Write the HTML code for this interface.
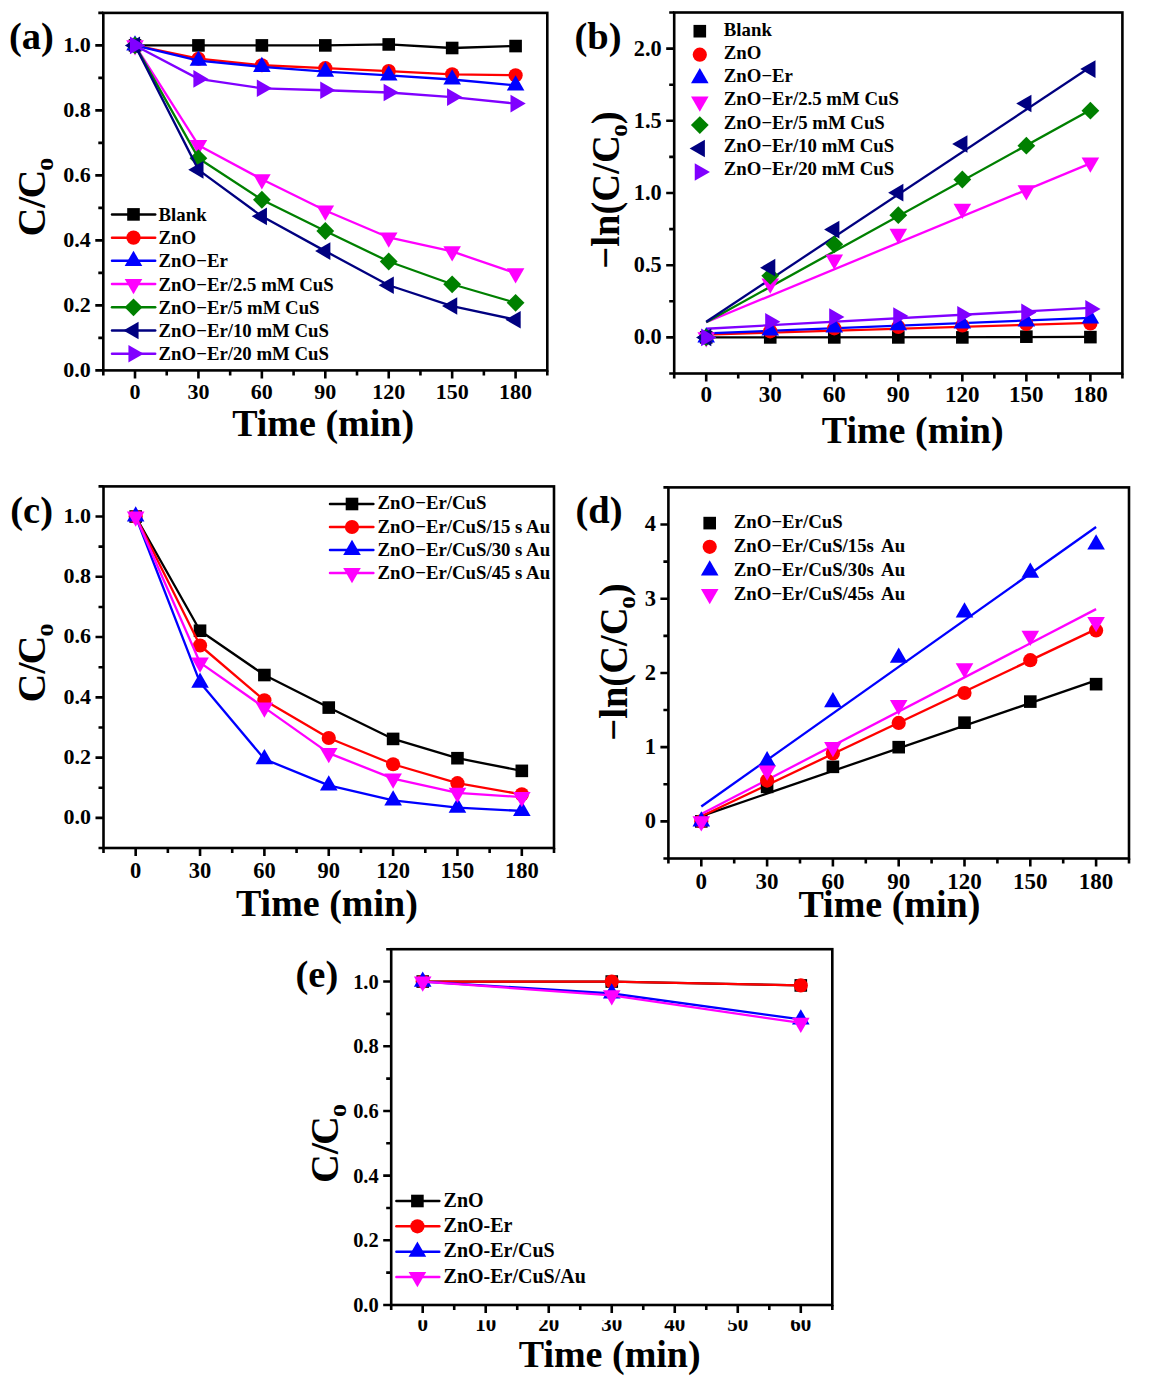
<!DOCTYPE html>
<html><head><meta charset="utf-8"><style>
html,body{margin:0;padding:0;background:#fff;}
body{width:1151px;height:1383px;overflow:hidden;}
svg{display:block;}
</style></head><body>
<svg width="1151" height="1383" viewBox="0 0 1151 1383">
<path d="M103.3 370.4V375.4M166.73 370.4V375.4M230.16 370.4V375.4M293.59 370.4V375.4M357.01 370.4V375.4M420.44 370.4V375.4M483.87 370.4V375.4M547.3 370.4V375.4M135.01 370.4V378.4M198.44 370.4V378.4M261.87 370.4V378.4M325.3 370.4V378.4M388.73 370.4V378.4M452.16 370.4V378.4M515.59 370.4V378.4M103.3 337.9H98.3M103.3 272.9H98.3M103.3 207.9H98.3M103.3 142.9H98.3M103.3 77.9H98.3M103.3 12.9H98.3M103.3 370.4H95.3M103.3 305.4H95.3M103.3 240.4H95.3M103.3 175.4H95.3M103.3 110.4H95.3M103.3 45.4H95.3" stroke="#000" stroke-width="2.6" fill="none"/>
<rect x="103.3" y="12.9" width="444" height="357.5" fill="none" stroke="#000" stroke-width="2.6"/>
<text x="135.01" y="398.8" font-size="22" text-anchor="middle" font-family="Liberation Serif" font-weight="bold" >0</text>
<text x="198.44" y="398.8" font-size="22" text-anchor="middle" font-family="Liberation Serif" font-weight="bold" >30</text>
<text x="261.87" y="398.8" font-size="22" text-anchor="middle" font-family="Liberation Serif" font-weight="bold" >60</text>
<text x="325.3" y="398.8" font-size="22" text-anchor="middle" font-family="Liberation Serif" font-weight="bold" >90</text>
<text x="388.73" y="398.8" font-size="22" text-anchor="middle" font-family="Liberation Serif" font-weight="bold" >120</text>
<text x="452.16" y="398.8" font-size="22" text-anchor="middle" font-family="Liberation Serif" font-weight="bold" >150</text>
<text x="515.59" y="398.8" font-size="22" text-anchor="middle" font-family="Liberation Serif" font-weight="bold" >180</text>
<text x="90.8" y="376.7" font-size="22" text-anchor="end" font-family="Liberation Serif" font-weight="bold" >0.0</text>
<text x="90.8" y="311.7" font-size="22" text-anchor="end" font-family="Liberation Serif" font-weight="bold" >0.2</text>
<text x="90.8" y="246.7" font-size="22" text-anchor="end" font-family="Liberation Serif" font-weight="bold" >0.4</text>
<text x="90.8" y="181.7" font-size="22" text-anchor="end" font-family="Liberation Serif" font-weight="bold" >0.6</text>
<text x="90.8" y="116.7" font-size="22" text-anchor="end" font-family="Liberation Serif" font-weight="bold" >0.8</text>
<text x="90.8" y="51.7" font-size="22" text-anchor="end" font-family="Liberation Serif" font-weight="bold" >1.0</text>
<polyline points="135.01,45.4 198.44,45.4 261.87,45.4 325.3,45.4 388.73,44.43 452.16,48 515.59,46.05" fill="none" stroke="#000000" stroke-width="2.3" stroke-linejoin="round"/>
<rect x="128.71" y="39.1" width="12.6" height="12.6" fill="#000000"/>
<rect x="192.14" y="39.1" width="12.6" height="12.6" fill="#000000"/>
<rect x="255.57" y="39.1" width="12.6" height="12.6" fill="#000000"/>
<rect x="319" y="39.1" width="12.6" height="12.6" fill="#000000"/>
<rect x="382.43" y="38.13" width="12.6" height="12.6" fill="#000000"/>
<rect x="445.86" y="41.7" width="12.6" height="12.6" fill="#000000"/>
<rect x="509.29" y="39.75" width="12.6" height="12.6" fill="#000000"/>
<polyline points="135.01,45.4 198.44,58.73 261.87,65.23 325.3,68.15 388.73,71.07 452.16,74.32 515.59,75.3" fill="none" stroke="#ff0000" stroke-width="2.3" stroke-linejoin="round"/>
<circle cx="135.01" cy="45.4" r="7.1" fill="#ff0000"/>
<circle cx="198.44" cy="58.73" r="7.1" fill="#ff0000"/>
<circle cx="261.87" cy="65.23" r="7.1" fill="#ff0000"/>
<circle cx="325.3" cy="68.15" r="7.1" fill="#ff0000"/>
<circle cx="388.73" cy="71.07" r="7.1" fill="#ff0000"/>
<circle cx="452.16" cy="74.32" r="7.1" fill="#ff0000"/>
<circle cx="515.59" cy="75.3" r="7.1" fill="#ff0000"/>
<polyline points="135.01,45.4 198.44,60.68 261.87,66.85 325.3,71.72 388.73,75.3 452.16,79.52 515.59,85.38" fill="none" stroke="#0000ff" stroke-width="2.3" stroke-linejoin="round"/>
<path d="M135.01 35.24L143.81 50.48L126.21 50.48Z" fill="#0000ff"/>
<path d="M198.44 50.51L207.24 65.76L189.64 65.76Z" fill="#0000ff"/>
<path d="M261.87 56.69L270.67 71.93L253.07 71.93Z" fill="#0000ff"/>
<path d="M325.3 61.56L334.1 76.81L316.5 76.81Z" fill="#0000ff"/>
<path d="M388.73 65.14L397.53 80.38L379.93 80.38Z" fill="#0000ff"/>
<path d="M452.16 69.36L460.96 84.61L443.36 84.61Z" fill="#0000ff"/>
<path d="M515.59 75.21L524.39 90.46L506.79 90.46Z" fill="#0000ff"/>
<polyline points="135.01,45.4 198.44,145.18 261.87,179.3 325.3,210.5 388.73,237.47 452.16,251.45 515.59,273.22" fill="none" stroke="#ff00ff" stroke-width="2.3" stroke-linejoin="round"/>
<path d="M135.01 55.56L143.81 40.32L126.21 40.32Z" fill="#ff00ff"/>
<path d="M198.44 155.34L207.24 140.09L189.64 140.09Z" fill="#ff00ff"/>
<path d="M261.87 189.46L270.67 174.22L253.07 174.22Z" fill="#ff00ff"/>
<path d="M325.3 220.66L334.1 205.42L316.5 205.42Z" fill="#ff00ff"/>
<path d="M388.73 247.64L397.53 232.39L379.93 232.39Z" fill="#ff00ff"/>
<path d="M452.16 261.61L460.96 246.37L443.36 246.37Z" fill="#ff00ff"/>
<path d="M515.59 283.39L524.39 268.14L506.79 268.14Z" fill="#ff00ff"/>
<polyline points="135.01,45.4 198.44,158.17 261.87,199.77 325.3,230.97 388.73,261.52 452.16,284.27 515.59,302.8" fill="none" stroke="#008000" stroke-width="2.3" stroke-linejoin="round"/>
<path d="M135.01 36.5L143.91 45.4L135.01 54.3L126.11 45.4Z" fill="#008000"/>
<path d="M198.44 149.27L207.34 158.17L198.44 167.07L189.54 158.17Z" fill="#008000"/>
<path d="M261.87 190.87L270.77 199.77L261.87 208.67L252.97 199.77Z" fill="#008000"/>
<path d="M325.3 222.07L334.2 230.97L325.3 239.88L316.4 230.97Z" fill="#008000"/>
<path d="M388.73 252.62L397.63 261.52L388.73 270.42L379.83 261.52Z" fill="#008000"/>
<path d="M452.16 275.38L461.06 284.27L452.16 293.17L443.26 284.27Z" fill="#008000"/>
<path d="M515.59 293.9L524.49 302.8L515.59 311.7L506.69 302.8Z" fill="#008000"/>
<polyline points="135.01,45.4 198.44,169.87 261.87,216.35 325.3,251.12 388.73,285.25 452.16,306.05 515.59,319.7" fill="none" stroke="#000080" stroke-width="2.3" stroke-linejoin="round"/>
<path d="M124.85 45.4L140.09 36.6L140.09 54.2Z" fill="#000080"/>
<path d="M188.28 169.87L203.52 161.07L203.52 178.67Z" fill="#000080"/>
<path d="M251.71 216.35L266.95 207.55L266.95 225.15Z" fill="#000080"/>
<path d="M315.14 251.12L330.38 242.32L330.38 259.93Z" fill="#000080"/>
<path d="M378.57 285.25L393.81 276.45L393.81 294.05Z" fill="#000080"/>
<path d="M442 306.05L457.24 297.25L457.24 314.85Z" fill="#000080"/>
<path d="M505.42 319.7L520.67 310.9L520.67 328.5Z" fill="#000080"/>
<polyline points="135.01,45.4 198.44,78.88 261.87,88.3 325.3,90.25 388.73,92.52 452.16,97.08 515.59,103.58" fill="none" stroke="#8000ff" stroke-width="2.3" stroke-linejoin="round"/>
<path d="M145.18 45.4L129.93 36.6L129.93 54.2Z" fill="#8000ff"/>
<path d="M208.6 78.88L193.36 70.08L193.36 87.67Z" fill="#8000ff"/>
<path d="M272.03 88.3L256.79 79.5L256.79 97.1Z" fill="#8000ff"/>
<path d="M335.46 90.25L320.22 81.45L320.22 99.05Z" fill="#8000ff"/>
<path d="M398.89 92.52L383.65 83.72L383.65 101.32Z" fill="#8000ff"/>
<path d="M462.32 97.08L447.08 88.28L447.08 105.88Z" fill="#8000ff"/>
<path d="M525.75 103.58L510.51 94.78L510.51 112.38Z" fill="#8000ff"/>
<path d="M112 214.4H155.2" stroke="#000000" stroke-width="2.5" stroke-linecap="round"/>
<rect x="127.2" y="208.1" width="12.6" height="12.6" fill="#000000"/>
<text x="158.6" y="220.9" font-size="18.8" text-anchor="start" font-family="Liberation Serif" font-weight="bold" >Blank</text>
<path d="M112 237.63H155.2" stroke="#ff0000" stroke-width="2.5" stroke-linecap="round"/>
<circle cx="133.5" cy="237.63" r="7.1" fill="#ff0000"/>
<text x="158.6" y="244.13" font-size="18.8" text-anchor="start" font-family="Liberation Serif" font-weight="bold" >ZnO</text>
<path d="M112 260.86H155.2" stroke="#0000ff" stroke-width="2.5" stroke-linecap="round"/>
<path d="M133.5 250.7L142.3 265.94L124.7 265.94Z" fill="#0000ff"/>
<text x="158.6" y="267.36" font-size="18.8" text-anchor="start" font-family="Liberation Serif" font-weight="bold" >ZnO&#8722;Er</text>
<path d="M112 284.09H155.2" stroke="#ff00ff" stroke-width="2.5" stroke-linecap="round"/>
<path d="M133.5 294.25L142.3 279.01L124.7 279.01Z" fill="#ff00ff"/>
<text x="158.6" y="290.59" font-size="18.8" text-anchor="start" font-family="Liberation Serif" font-weight="bold" >ZnO&#8722;Er/2.5 mM CuS</text>
<path d="M112 307.32H155.2" stroke="#008000" stroke-width="2.5" stroke-linecap="round"/>
<path d="M133.5 298.42L142.4 307.32L133.5 316.22L124.6 307.32Z" fill="#008000"/>
<text x="158.6" y="313.82" font-size="18.8" text-anchor="start" font-family="Liberation Serif" font-weight="bold" >ZnO&#8722;Er/5 mM CuS</text>
<path d="M112 330.55H155.2" stroke="#000080" stroke-width="2.5" stroke-linecap="round"/>
<path d="M123.34 330.55L138.58 321.75L138.58 339.35Z" fill="#000080"/>
<text x="158.6" y="337.05" font-size="18.8" text-anchor="start" font-family="Liberation Serif" font-weight="bold" >ZnO&#8722;Er/10 mM CuS</text>
<path d="M112 353.78H155.2" stroke="#8000ff" stroke-width="2.5" stroke-linecap="round"/>
<path d="M143.66 353.78L128.42 344.98L128.42 362.58Z" fill="#8000ff"/>
<text x="158.6" y="360.28" font-size="18.8" text-anchor="start" font-family="Liberation Serif" font-weight="bold" >ZnO&#8722;Er/20 mM CuS</text>
<text x="9" y="48.8" font-size="38.5" text-anchor="start" font-family="Liberation Serif" font-weight="bold" >(a)</text>
<text x="323.1" y="435.6" font-size="38" text-anchor="middle" font-family="Liberation Serif" font-weight="bold" >Time (min)</text>
<text transform="translate(44.8,236.6) rotate(-90) scale(1.0,1)" font-size="40" font-family="Liberation Serif" font-weight="bold">C/<tspan dx="-2">C</tspan><tspan font-size="26" dx="-1.0" dy="8.5">o</tspan></text>
<path d="M674.2 373.5V378.5M738.23 373.5V378.5M802.26 373.5V378.5M866.29 373.5V378.5M930.31 373.5V378.5M994.34 373.5V378.5M1058.37 373.5V378.5M1122.4 373.5V378.5M706.21 373.5V381.5M770.24 373.5V381.5M834.27 373.5V381.5M898.3 373.5V381.5M962.33 373.5V381.5M1026.36 373.5V381.5M1090.39 373.5V381.5M674.2 373.5H669.2M674.2 301.3H669.2M674.2 229.1H669.2M674.2 156.9H669.2M674.2 84.7H669.2M674.2 12.5H669.2M674.2 337.4H666.2M674.2 265.2H666.2M674.2 193H666.2M674.2 120.8H666.2M674.2 48.6H666.2" stroke="#000" stroke-width="2.6" fill="none"/>
<rect x="674.2" y="12.5" width="448.2" height="361" fill="none" stroke="#000" stroke-width="2.6"/>
<text x="706.21" y="402.1" font-size="23" text-anchor="middle" font-family="Liberation Serif" font-weight="bold" >0</text>
<text x="770.24" y="402.1" font-size="23" text-anchor="middle" font-family="Liberation Serif" font-weight="bold" >30</text>
<text x="834.27" y="402.1" font-size="23" text-anchor="middle" font-family="Liberation Serif" font-weight="bold" >60</text>
<text x="898.3" y="402.1" font-size="23" text-anchor="middle" font-family="Liberation Serif" font-weight="bold" >90</text>
<text x="962.33" y="402.1" font-size="23" text-anchor="middle" font-family="Liberation Serif" font-weight="bold" >120</text>
<text x="1026.36" y="402.1" font-size="23" text-anchor="middle" font-family="Liberation Serif" font-weight="bold" >150</text>
<text x="1090.39" y="402.1" font-size="23" text-anchor="middle" font-family="Liberation Serif" font-weight="bold" >180</text>
<text transform="translate(661.7,344.3) scale(0.97,1)" font-size="23" text-anchor="end" font-family="Liberation Serif" font-weight="bold" >0.0</text>
<text transform="translate(661.7,272.1) scale(0.97,1)" font-size="23" text-anchor="end" font-family="Liberation Serif" font-weight="bold" >0.5</text>
<text transform="translate(661.7,199.9) scale(0.97,1)" font-size="23" text-anchor="end" font-family="Liberation Serif" font-weight="bold" >1.0</text>
<text transform="translate(661.7,127.7) scale(0.97,1)" font-size="23" text-anchor="end" font-family="Liberation Serif" font-weight="bold" >1.5</text>
<text transform="translate(661.7,55.5) scale(0.97,1)" font-size="23" text-anchor="end" font-family="Liberation Serif" font-weight="bold" >2.0</text>
<polyline points="706.21,337.4 1090.39,336.97" fill="none" stroke="#000000" stroke-width="2.3" stroke-linejoin="round"/>
<polyline points="706.21,334.51 1090.39,322.96" fill="none" stroke="#ff0000" stroke-width="2.3" stroke-linejoin="round"/>
<polyline points="706.21,333.36 1090.39,317.91" fill="none" stroke="#0000ff" stroke-width="2.3" stroke-linejoin="round"/>
<polyline points="706.21,322.24 1090.39,163.4" fill="none" stroke="#ff00ff" stroke-width="2.3" stroke-linejoin="round"/>
<polyline points="706.21,322.24 1090.39,109.97" fill="none" stroke="#008000" stroke-width="2.3" stroke-linejoin="round"/>
<polyline points="706.21,321.8 1090.39,67.08" fill="none" stroke="#000080" stroke-width="2.3" stroke-linejoin="round"/>
<polyline points="706.21,328.74 1090.39,307.8" fill="none" stroke="#8000ff" stroke-width="2.3" stroke-linejoin="round"/>
<rect x="699.91" y="331.1" width="12.6" height="12.6" fill="#000000"/>
<rect x="763.94" y="331.1" width="12.6" height="12.6" fill="#000000"/>
<rect x="827.97" y="331.1" width="12.6" height="12.6" fill="#000000"/>
<rect x="892" y="331.1" width="12.6" height="12.6" fill="#000000"/>
<rect x="956.03" y="331.1" width="12.6" height="12.6" fill="#000000"/>
<rect x="1020.06" y="330.38" width="12.6" height="12.6" fill="#000000"/>
<rect x="1084.09" y="330.81" width="12.6" height="12.6" fill="#000000"/>
<circle cx="706.21" cy="337.4" r="7.1" fill="#ff0000"/>
<circle cx="770.24" cy="331.35" r="7.1" fill="#ff0000"/>
<circle cx="834.27" cy="328.31" r="7.1" fill="#ff0000"/>
<circle cx="898.3" cy="326.92" r="7.1" fill="#ff0000"/>
<circle cx="962.33" cy="325.52" r="7.1" fill="#ff0000"/>
<circle cx="1026.36" cy="323.94" r="7.1" fill="#ff0000"/>
<circle cx="1090.39" cy="323.46" r="7.1" fill="#ff0000"/>
<path d="M706.21 327.24L715.01 342.48L697.41 342.48Z" fill="#0000ff"/>
<path d="M770.24 320.29L779.04 335.53L761.44 335.53Z" fill="#0000ff"/>
<path d="M834.27 317.38L843.07 332.62L825.47 332.62Z" fill="#0000ff"/>
<path d="M898.3 315.04L907.1 330.28L889.5 330.28Z" fill="#0000ff"/>
<path d="M962.33 313.3L971.13 328.54L953.53 328.54Z" fill="#0000ff"/>
<path d="M1026.36 311.22L1035.16 326.46L1017.56 326.46Z" fill="#0000ff"/>
<path d="M1090.39 308.29L1099.19 323.53L1081.59 323.53Z" fill="#0000ff"/>
<path d="M706.21 347.56L715.01 332.32L697.41 332.32Z" fill="#ff00ff"/>
<path d="M770.24 293.84L779.04 278.6L761.44 278.6Z" fill="#ff00ff"/>
<path d="M834.27 269.73L843.07 254.49L825.47 254.49Z" fill="#ff00ff"/>
<path d="M898.3 244.03L907.1 228.78L889.5 228.78Z" fill="#ff00ff"/>
<path d="M962.33 219.05L971.13 203.8L953.53 203.8Z" fill="#ff00ff"/>
<path d="M1026.36 200.56L1035.16 185.32L1017.56 185.32Z" fill="#ff00ff"/>
<path d="M1090.39 172.84L1099.19 157.6L1081.59 157.6Z" fill="#ff00ff"/>
<path d="M706.21 328.5L715.11 337.4L706.21 346.3L697.31 337.4Z" fill="#008000"/>
<path d="M770.24 266.96L779.14 275.86L770.24 284.76L761.34 275.86Z" fill="#008000"/>
<path d="M834.27 235.45L843.17 244.35L834.27 253.25L825.37 244.35Z" fill="#008000"/>
<path d="M898.3 206.29L907.2 215.19L898.3 224.09L889.4 215.19Z" fill="#008000"/>
<path d="M962.33 170.58L971.23 179.48L962.33 188.38L953.43 179.48Z" fill="#008000"/>
<path d="M1026.36 136.73L1035.26 145.63L1026.36 154.53L1017.46 145.63Z" fill="#008000"/>
<path d="M1090.39 101.76L1099.29 110.66L1090.39 119.56L1081.49 110.66Z" fill="#008000"/>
<path d="M696.05 337.4L711.29 328.6L711.29 346.2Z" fill="#000080"/>
<path d="M760.08 267.67L775.32 258.87L775.32 276.47Z" fill="#000080"/>
<path d="M824.11 229.6L839.35 220.8L839.35 238.4Z" fill="#000080"/>
<path d="M888.14 192.65L903.38 183.85L903.38 201.45Z" fill="#000080"/>
<path d="M952.17 143.99L967.41 135.19L967.41 152.79Z" fill="#000080"/>
<path d="M1016.2 103.55L1031.44 94.75L1031.44 112.35Z" fill="#000080"/>
<path d="M1080.22 69.12L1095.47 60.32L1095.47 77.92Z" fill="#000080"/>
<path d="M716.38 337.4L701.13 328.6L701.13 346.2Z" fill="#8000ff"/>
<path d="M780.4 321.7L765.16 312.9L765.16 330.5Z" fill="#8000ff"/>
<path d="M844.43 316.96L829.19 308.16L829.19 325.76Z" fill="#8000ff"/>
<path d="M908.46 315.96L893.22 307.16L893.22 324.76Z" fill="#8000ff"/>
<path d="M972.49 314.78L957.25 305.98L957.25 323.58Z" fill="#8000ff"/>
<path d="M1036.52 312.4L1021.28 303.6L1021.28 321.2Z" fill="#8000ff"/>
<path d="M1100.55 308.92L1085.31 300.12L1085.31 317.72Z" fill="#8000ff"/>
<rect x="693.5" y="24.9" width="12.6" height="12.6" fill="#000000"/>
<text x="723.8" y="36.4" font-size="18.8" text-anchor="start" font-family="Liberation Serif" font-weight="bold" >Blank</text>
<circle cx="699.8" cy="54.67" r="7.1" fill="#ff0000"/>
<text x="723.8" y="59.43" font-size="18.8" text-anchor="start" font-family="Liberation Serif" font-weight="bold" >ZnO</text>
<path d="M699.8 67.98L708.6 83.22L691 83.22Z" fill="#0000ff"/>
<text x="723.8" y="82.46" font-size="18.8" text-anchor="start" font-family="Liberation Serif" font-weight="bold" >ZnO&#8722;Er</text>
<path d="M699.8 111.77L708.6 96.53L691 96.53Z" fill="#ff00ff"/>
<text x="723.8" y="105.49" font-size="18.8" text-anchor="start" font-family="Liberation Serif" font-weight="bold" >ZnO&#8722;Er/2.5 mM CuS</text>
<path d="M699.8 116.18L708.7 125.08L699.8 133.98L690.9 125.08Z" fill="#008000"/>
<text x="723.8" y="128.52" font-size="18.8" text-anchor="start" font-family="Liberation Serif" font-weight="bold" >ZnO&#8722;Er/5 mM CuS</text>
<path d="M689.64 148.55L704.88 139.75L704.88 157.35Z" fill="#000080"/>
<text x="723.8" y="151.55" font-size="18.8" text-anchor="start" font-family="Liberation Serif" font-weight="bold" >ZnO&#8722;Er/10 mM CuS</text>
<path d="M709.96 172.02L694.72 163.22L694.72 180.82Z" fill="#8000ff"/>
<text x="723.8" y="174.58" font-size="18.8" text-anchor="start" font-family="Liberation Serif" font-weight="bold" >ZnO&#8722;Er/20 mM CuS</text>
<text x="574.5" y="49.3" font-size="38.5" text-anchor="start" font-family="Liberation Serif" font-weight="bold" >(b)</text>
<text x="912.7" y="443.2" font-size="38" text-anchor="middle" font-family="Liberation Serif" font-weight="bold" >Time (min)</text>
<text transform="translate(619.2,268.7) rotate(-90) scale(0.965,1)" font-size="40" font-family="Liberation Serif" font-weight="bold">&#8722;ln(C/C<tspan font-size="26" dx="-1.5" dy="7.5">o</tspan><tspan dy="-7.5">)</tspan></text>
<path d="M103.5 848V853M167.86 848V853M232.21 848V853M296.57 848V853M360.93 848V853M425.29 848V853M489.64 848V853M554 848V853M135.68 848V856M200.04 848V856M264.39 848V856M328.75 848V856M393.11 848V856M457.46 848V856M521.82 848V856M103.5 848H98.5M103.5 787.73H98.5M103.5 727.47H98.5M103.5 667.2H98.5M103.5 606.93H98.5M103.5 546.67H98.5M103.5 486.4H98.5M103.5 817.87H95.5M103.5 757.6H95.5M103.5 697.33H95.5M103.5 637.07H95.5M103.5 576.8H95.5M103.5 516.53H95.5" stroke="#000" stroke-width="2.6" fill="none"/>
<rect x="103.5" y="486.4" width="450.5" height="361.6" fill="none" stroke="#000" stroke-width="2.6"/>
<text x="135.68" y="877.6" font-size="22.5" text-anchor="middle" font-family="Liberation Serif" font-weight="bold" >0</text>
<text x="200.04" y="877.6" font-size="22.5" text-anchor="middle" font-family="Liberation Serif" font-weight="bold" >30</text>
<text x="264.39" y="877.6" font-size="22.5" text-anchor="middle" font-family="Liberation Serif" font-weight="bold" >60</text>
<text x="328.75" y="877.6" font-size="22.5" text-anchor="middle" font-family="Liberation Serif" font-weight="bold" >90</text>
<text x="393.11" y="877.6" font-size="22.5" text-anchor="middle" font-family="Liberation Serif" font-weight="bold" >120</text>
<text x="457.46" y="877.6" font-size="22.5" text-anchor="middle" font-family="Liberation Serif" font-weight="bold" >150</text>
<text x="521.82" y="877.6" font-size="22.5" text-anchor="middle" font-family="Liberation Serif" font-weight="bold" >180</text>
<text x="91" y="824.17" font-size="22" text-anchor="end" font-family="Liberation Serif" font-weight="bold" >0.0</text>
<text x="91" y="763.9" font-size="22" text-anchor="end" font-family="Liberation Serif" font-weight="bold" >0.2</text>
<text x="91" y="703.63" font-size="22" text-anchor="end" font-family="Liberation Serif" font-weight="bold" >0.4</text>
<text x="91" y="643.37" font-size="22" text-anchor="end" font-family="Liberation Serif" font-weight="bold" >0.6</text>
<text x="91" y="583.1" font-size="22" text-anchor="end" font-family="Liberation Serif" font-weight="bold" >0.8</text>
<text x="91" y="522.83" font-size="22" text-anchor="end" font-family="Liberation Serif" font-weight="bold" >1.0</text>
<polyline points="135.68,516.53 200.04,630.74 264.39,675.03 328.75,707.58 393.11,738.92 457.46,758.2 521.82,770.86" fill="none" stroke="#000000" stroke-width="2.3" stroke-linejoin="round"/>
<rect x="129.38" y="510.23" width="12.6" height="12.6" fill="#000000"/>
<rect x="193.74" y="624.44" width="12.6" height="12.6" fill="#000000"/>
<rect x="258.09" y="668.73" width="12.6" height="12.6" fill="#000000"/>
<rect x="322.45" y="701.28" width="12.6" height="12.6" fill="#000000"/>
<rect x="386.81" y="732.62" width="12.6" height="12.6" fill="#000000"/>
<rect x="451.16" y="751.9" width="12.6" height="12.6" fill="#000000"/>
<rect x="515.52" y="764.56" width="12.6" height="12.6" fill="#000000"/>
<polyline points="135.68,516.53 200.04,645.5 264.39,700.35 328.75,738.01 393.11,764.23 457.46,783.21 521.82,794.36" fill="none" stroke="#ff0000" stroke-width="2.3" stroke-linejoin="round"/>
<circle cx="135.68" cy="516.53" r="7.1" fill="#ff0000"/>
<circle cx="200.04" cy="645.5" r="7.1" fill="#ff0000"/>
<circle cx="264.39" cy="700.35" r="7.1" fill="#ff0000"/>
<circle cx="328.75" cy="738.01" r="7.1" fill="#ff0000"/>
<circle cx="393.11" cy="764.23" r="7.1" fill="#ff0000"/>
<circle cx="457.46" cy="783.21" r="7.1" fill="#ff0000"/>
<circle cx="521.82" cy="794.36" r="7.1" fill="#ff0000"/>
<polyline points="135.68,516.53 200.04,682.57 264.39,759.11 328.75,785.32 393.11,800.39 457.46,807.62 521.82,810.94" fill="none" stroke="#0000ff" stroke-width="2.3" stroke-linejoin="round"/>
<path d="M135.68 506.37L144.48 521.61L126.88 521.61Z" fill="#0000ff"/>
<path d="M200.04 672.41L208.84 687.65L191.24 687.65Z" fill="#0000ff"/>
<path d="M264.39 748.95L273.19 764.19L255.59 764.19Z" fill="#0000ff"/>
<path d="M328.75 775.16L337.55 790.4L319.95 790.4Z" fill="#0000ff"/>
<path d="M393.11 790.23L401.91 805.47L384.31 805.47Z" fill="#0000ff"/>
<path d="M457.46 797.46L466.26 812.7L448.66 812.7Z" fill="#0000ff"/>
<path d="M521.82 800.77L530.62 816.02L513.02 816.02Z" fill="#0000ff"/>
<polyline points="135.68,516.53 200.04,662.68 264.39,707.58 328.75,753.08 393.11,778.69 457.46,792.86 521.82,797.07" fill="none" stroke="#ff00ff" stroke-width="2.3" stroke-linejoin="round"/>
<path d="M135.68 526.69L144.48 511.45L126.88 511.45Z" fill="#ff00ff"/>
<path d="M200.04 672.84L208.84 657.6L191.24 657.6Z" fill="#ff00ff"/>
<path d="M264.39 717.74L273.19 702.5L255.59 702.5Z" fill="#ff00ff"/>
<path d="M328.75 763.24L337.55 748L319.95 748Z" fill="#ff00ff"/>
<path d="M393.11 788.85L401.91 773.61L384.31 773.61Z" fill="#ff00ff"/>
<path d="M457.46 803.02L466.26 787.78L448.66 787.78Z" fill="#ff00ff"/>
<path d="M521.82 807.24L530.62 791.99L513.02 791.99Z" fill="#ff00ff"/>
<path d="M330 504H373.4" stroke="#000000" stroke-width="2.5" stroke-linecap="round"/>
<rect x="345.7" y="497.7" width="12.6" height="12.6" fill="#000000"/>
<text x="377.6" y="509.4" font-size="18.8" text-anchor="start" font-family="Liberation Serif" font-weight="bold" >ZnO&#8722;Er/CuS</text>
<path d="M330 527H373.4" stroke="#ff0000" stroke-width="2.5" stroke-linecap="round"/>
<circle cx="352" cy="527" r="7.1" fill="#ff0000"/>
<text x="377.6" y="532.57" font-size="18.8" text-anchor="start" font-family="Liberation Serif" font-weight="bold" >ZnO&#8722;Er/CuS/15 s Au</text>
<path d="M330 550H373.4" stroke="#0000ff" stroke-width="2.5" stroke-linecap="round"/>
<path d="M352 539.84L360.8 555.08L343.2 555.08Z" fill="#0000ff"/>
<text x="377.6" y="555.74" font-size="18.8" text-anchor="start" font-family="Liberation Serif" font-weight="bold" >ZnO&#8722;Er/CuS/30 s Au</text>
<path d="M330 573H373.4" stroke="#ff00ff" stroke-width="2.5" stroke-linecap="round"/>
<path d="M352 583.16L360.8 567.92L343.2 567.92Z" fill="#ff00ff"/>
<text x="377.6" y="578.91" font-size="18.8" text-anchor="start" font-family="Liberation Serif" font-weight="bold" >ZnO&#8722;Er/CuS/45 s Au</text>
<text x="10.3" y="522.8" font-size="38.5" text-anchor="start" font-family="Liberation Serif" font-weight="bold" >(c)</text>
<text x="326.9" y="915.9" font-size="38" text-anchor="middle" font-family="Liberation Serif" font-weight="bold" >Time (min)</text>
<text transform="translate(44.6,702.4) rotate(-90) scale(1.0,1)" font-size="40" font-family="Liberation Serif" font-weight="bold">C/<tspan dx="-2">C</tspan><tspan font-size="26" dx="-1.0" dy="8.5">o</tspan></text>
<path d="M668.4 858.5V863.5M734.2 858.5V863.5M800 858.5V863.5M865.8 858.5V863.5M931.6 858.5V863.5M997.4 858.5V863.5M1063.2 858.5V863.5M1129 858.5V863.5M701.3 858.5V866.5M767.1 858.5V866.5M832.9 858.5V866.5M898.7 858.5V866.5M964.5 858.5V866.5M1030.3 858.5V866.5M1096.1 858.5V866.5M668.4 858.5H663.4M668.4 784.28H663.4M668.4 710.06H663.4M668.4 635.84H663.4M668.4 561.62H663.4M668.4 487.4H663.4M668.4 821.39H660.4M668.4 747.17H660.4M668.4 672.95H660.4M668.4 598.73H660.4M668.4 524.51H660.4" stroke="#000" stroke-width="2.6" fill="none"/>
<rect x="668.4" y="487.4" width="460.6" height="371.1" fill="none" stroke="#000" stroke-width="2.6"/>
<text x="701.3" y="888.7" font-size="23" text-anchor="middle" font-family="Liberation Serif" font-weight="bold" >0</text>
<text x="767.1" y="888.7" font-size="23" text-anchor="middle" font-family="Liberation Serif" font-weight="bold" >30</text>
<text x="832.9" y="888.7" font-size="23" text-anchor="middle" font-family="Liberation Serif" font-weight="bold" >60</text>
<text x="898.7" y="888.7" font-size="23" text-anchor="middle" font-family="Liberation Serif" font-weight="bold" >90</text>
<text x="964.5" y="888.7" font-size="23" text-anchor="middle" font-family="Liberation Serif" font-weight="bold" >120</text>
<text x="1030.3" y="888.7" font-size="23" text-anchor="middle" font-family="Liberation Serif" font-weight="bold" >150</text>
<text x="1096.1" y="888.7" font-size="23" text-anchor="middle" font-family="Liberation Serif" font-weight="bold" >180</text>
<text x="655.9" y="828.29" font-size="22.5" text-anchor="end" font-family="Liberation Serif" font-weight="bold" >0</text>
<text x="655.9" y="754.07" font-size="22.5" text-anchor="end" font-family="Liberation Serif" font-weight="bold" >1</text>
<text x="655.9" y="679.85" font-size="22.5" text-anchor="end" font-family="Liberation Serif" font-weight="bold" >2</text>
<text x="655.9" y="605.63" font-size="22.5" text-anchor="end" font-family="Liberation Serif" font-weight="bold" >3</text>
<text x="655.9" y="531.41" font-size="22.5" text-anchor="end" font-family="Liberation Serif" font-weight="bold" >4</text>
<polyline points="701.3,816.19 1096.1,680.37" fill="none" stroke="#000000" stroke-width="2.3" stroke-linejoin="round"/>
<polyline points="701.3,816.19 1096.1,629.16" fill="none" stroke="#ff0000" stroke-width="2.3" stroke-linejoin="round"/>
<polyline points="701.3,806.55 1096.1,527.03" fill="none" stroke="#0000ff" stroke-width="2.3" stroke-linejoin="round"/>
<polyline points="701.3,813.97 1096.1,609.12" fill="none" stroke="#ff00ff" stroke-width="2.3" stroke-linejoin="round"/>
<rect x="695" y="815.09" width="12.6" height="12.6" fill="#000000"/>
<rect x="760.8" y="780.58" width="12.6" height="12.6" fill="#000000"/>
<rect x="826.6" y="760.54" width="12.6" height="12.6" fill="#000000"/>
<rect x="892.4" y="740.87" width="12.6" height="12.6" fill="#000000"/>
<rect x="958.2" y="716.38" width="12.6" height="12.6" fill="#000000"/>
<rect x="1024" y="695.3" width="12.6" height="12.6" fill="#000000"/>
<rect x="1089.8" y="677.86" width="12.6" height="12.6" fill="#000000"/>
<circle cx="701.3" cy="821.39" r="7.1" fill="#ff0000"/>
<circle cx="767.1" cy="780.57" r="7.1" fill="#ff0000"/>
<circle cx="832.9" cy="753.48" r="7.1" fill="#ff0000"/>
<circle cx="898.7" cy="722.97" r="7.1" fill="#ff0000"/>
<circle cx="964.5" cy="692.99" r="7.1" fill="#ff0000"/>
<circle cx="1030.3" cy="660.18" r="7.1" fill="#ff0000"/>
<circle cx="1096.1" cy="630.42" r="7.1" fill="#ff0000"/>
<path d="M701.3 811.23L710.1 826.47L692.5 826.47Z" fill="#0000ff"/>
<path d="M767.1 751.11L775.9 766.35L758.3 766.35Z" fill="#0000ff"/>
<path d="M832.9 692.03L841.7 707.27L824.1 707.27Z" fill="#0000ff"/>
<path d="M898.7 647.5L907.5 662.74L889.9 662.74Z" fill="#0000ff"/>
<path d="M964.5 602.15L973.3 617.39L955.7 617.39Z" fill="#0000ff"/>
<path d="M1030.3 562.44L1039.1 577.69L1021.5 577.69Z" fill="#0000ff"/>
<path d="M1096.1 534.31L1104.9 549.56L1087.3 549.56Z" fill="#0000ff"/>
<path d="M701.3 831.55L710.1 816.31L692.5 816.31Z" fill="#ff00ff"/>
<path d="M767.1 780.78L775.9 765.54L758.3 765.54Z" fill="#ff00ff"/>
<path d="M832.9 757.33L841.7 742.09L824.1 742.09Z" fill="#ff00ff"/>
<path d="M898.7 715.17L907.5 699.93L889.9 699.93Z" fill="#ff00ff"/>
<path d="M964.5 678.58L973.3 663.34L955.7 663.34Z" fill="#ff00ff"/>
<path d="M1030.3 645.93L1039.1 630.69L1021.5 630.69Z" fill="#ff00ff"/>
<path d="M1096.1 632.27L1104.9 617.03L1087.3 617.03Z" fill="#ff00ff"/>
<rect x="703.4" y="516.8" width="12.6" height="12.6" fill="#000000"/>
<text x="733.8" y="528.3" font-size="18.8" text-anchor="start" font-family="Liberation Serif" font-weight="bold" word-spacing="3.5">ZnO&#8722;Er/CuS</text>
<circle cx="709.7" cy="546.8" r="7.1" fill="#ff0000"/>
<text x="733.8" y="552.05" font-size="18.8" text-anchor="start" font-family="Liberation Serif" font-weight="bold" word-spacing="3.5">ZnO&#8722;Er/CuS/15s Au</text>
<path d="M709.7 560.34L718.5 575.58L700.9 575.58Z" fill="#0000ff"/>
<text x="733.8" y="575.8" font-size="18.8" text-anchor="start" font-family="Liberation Serif" font-weight="bold" word-spacing="3.5">ZnO&#8722;Er/CuS/30s Au</text>
<path d="M709.7 604.36L718.5 589.12L700.9 589.12Z" fill="#ff00ff"/>
<text x="733.8" y="599.55" font-size="18.8" text-anchor="start" font-family="Liberation Serif" font-weight="bold" word-spacing="3.5">ZnO&#8722;Er/CuS/45s Au</text>
<text x="575.5" y="522.8" font-size="38.5" text-anchor="start" font-family="Liberation Serif" font-weight="bold" >(d)</text>
<text x="889.4" y="917.3" font-size="38" text-anchor="middle" font-family="Liberation Serif" font-weight="bold" >Time (min)</text>
<text transform="translate(627.1,740.8) rotate(-90) scale(0.965,1)" font-size="40" font-family="Liberation Serif" font-weight="bold">&#8722;ln(C/C<tspan font-size="26" dx="-1.5" dy="7.5">o</tspan><tspan dy="-7.5">)</tspan></text>
<path d="M391.2 1305V1310M454.21 1305V1310M517.23 1305V1310M580.24 1305V1310M643.26 1305V1310M706.27 1305V1310M769.29 1305V1310M832.3 1305V1310M422.71 1305V1313M485.72 1305V1313M548.74 1305V1313M611.75 1305V1313M674.76 1305V1313M737.78 1305V1313M800.79 1305V1313M391.2 1272.65H386.2M391.2 1207.96H386.2M391.2 1143.27H386.2M391.2 1078.58H386.2M391.2 1013.89H386.2M391.2 949.2H386.2M391.2 1305H383.2M391.2 1240.31H383.2M391.2 1175.62H383.2M391.2 1110.93H383.2M391.2 1046.24H383.2M391.2 981.55H383.2" stroke="#000" stroke-width="2.6" fill="none"/>
<rect x="391.2" y="949.2" width="441.1" height="355.8" fill="none" stroke="#000" stroke-width="2.6"/>
<clipPath id="cx"><rect x="0" y="1320.3" width="1151" height="40"/></clipPath><g clip-path="url(#cx)">
<text x="422.71" y="1331" font-size="21" text-anchor="middle" font-family="Liberation Serif" font-weight="bold" >0</text>
<text x="485.72" y="1331" font-size="21" text-anchor="middle" font-family="Liberation Serif" font-weight="bold" >10</text>
<text x="548.74" y="1331" font-size="21" text-anchor="middle" font-family="Liberation Serif" font-weight="bold" >20</text>
<text x="611.75" y="1331" font-size="21" text-anchor="middle" font-family="Liberation Serif" font-weight="bold" >30</text>
<text x="674.76" y="1331" font-size="21" text-anchor="middle" font-family="Liberation Serif" font-weight="bold" >40</text>
<text x="737.78" y="1331" font-size="21" text-anchor="middle" font-family="Liberation Serif" font-weight="bold" >50</text>
<text x="800.79" y="1331" font-size="21" text-anchor="middle" font-family="Liberation Serif" font-weight="bold" >60</text>
</g>
<text transform="translate(378.7,1312) scale(0.93,1)" font-size="22" text-anchor="end" font-family="Liberation Serif" font-weight="bold" >0.0</text>
<text transform="translate(378.7,1247.31) scale(0.93,1)" font-size="22" text-anchor="end" font-family="Liberation Serif" font-weight="bold" >0.2</text>
<text transform="translate(378.7,1182.62) scale(0.93,1)" font-size="22" text-anchor="end" font-family="Liberation Serif" font-weight="bold" >0.4</text>
<text transform="translate(378.7,1117.93) scale(0.93,1)" font-size="22" text-anchor="end" font-family="Liberation Serif" font-weight="bold" >0.6</text>
<text transform="translate(378.7,1053.24) scale(0.93,1)" font-size="22" text-anchor="end" font-family="Liberation Serif" font-weight="bold" >0.8</text>
<text transform="translate(378.7,988.55) scale(0.93,1)" font-size="22" text-anchor="end" font-family="Liberation Serif" font-weight="bold" >1.0</text>
<polyline points="422.71,981.55 611.75,981.55 800.79,985.43" fill="none" stroke="#000000" stroke-width="2.3" stroke-linejoin="round"/>
<rect x="416.41" y="975.25" width="12.6" height="12.6" fill="#000000"/>
<rect x="605.45" y="975.25" width="12.6" height="12.6" fill="#000000"/>
<rect x="794.49" y="979.13" width="12.6" height="12.6" fill="#000000"/>
<polyline points="422.71,981.55 611.75,981.55 800.79,985.43" fill="none" stroke="#ff0000" stroke-width="2.3" stroke-linejoin="round"/>
<circle cx="422.71" cy="981.55" r="7.1" fill="#ff0000"/>
<circle cx="611.75" cy="981.55" r="7.1" fill="#ff0000"/>
<circle cx="800.79" cy="985.43" r="7.1" fill="#ff0000"/>
<polyline points="422.71,981.55 611.75,993.51 800.79,1019.39" fill="none" stroke="#0000ff" stroke-width="2.3" stroke-linejoin="round"/>
<path d="M422.71 971.38L431.51 986.63L413.91 986.63Z" fill="#0000ff"/>
<path d="M611.75 983.35L620.55 998.59L602.95 998.59Z" fill="#0000ff"/>
<path d="M800.79 1009.23L809.59 1024.47L791.99 1024.47Z" fill="#0000ff"/>
<polyline points="422.71,981.55 611.75,995.45 800.79,1022.95" fill="none" stroke="#ff00ff" stroke-width="2.3" stroke-linejoin="round"/>
<path d="M422.71 991.71L431.51 976.46L413.91 976.46Z" fill="#ff00ff"/>
<path d="M611.75 1005.62L620.55 990.37L602.95 990.37Z" fill="#ff00ff"/>
<path d="M800.79 1033.11L809.59 1017.87L791.99 1017.87Z" fill="#ff00ff"/>
<path d="M396.4 1201H439.3" stroke="#000000" stroke-width="2.5" stroke-linecap="round"/>
<rect x="411.1" y="1194.7" width="12.6" height="12.6" fill="#000000"/>
<text x="443.6" y="1206.9" font-size="20" text-anchor="start" font-family="Liberation Serif" font-weight="bold" >ZnO</text>
<path d="M396.4 1226.35H439.3" stroke="#ff0000" stroke-width="2.5" stroke-linecap="round"/>
<circle cx="417.4" cy="1226.35" r="7.1" fill="#ff0000"/>
<text x="443.6" y="1232.13" font-size="20" text-anchor="start" font-family="Liberation Serif" font-weight="bold" >ZnO-Er</text>
<path d="M396.4 1251.7H439.3" stroke="#0000ff" stroke-width="2.5" stroke-linecap="round"/>
<path d="M417.4 1241.54L426.2 1256.78L408.6 1256.78Z" fill="#0000ff"/>
<text x="443.6" y="1257.36" font-size="20" text-anchor="start" font-family="Liberation Serif" font-weight="bold" >ZnO-Er/CuS</text>
<path d="M396.4 1277.05H439.3" stroke="#ff00ff" stroke-width="2.5" stroke-linecap="round"/>
<path d="M417.4 1287.21L426.2 1271.97L408.6 1271.97Z" fill="#ff00ff"/>
<text x="443.6" y="1282.59" font-size="20" text-anchor="start" font-family="Liberation Serif" font-weight="bold" >ZnO-Er/CuS/Au</text>
<text x="295.5" y="986.7" font-size="38.5" text-anchor="start" font-family="Liberation Serif" font-weight="bold" >(e)</text>
<text x="609.7" y="1366.7" font-size="38" text-anchor="middle" font-family="Liberation Serif" font-weight="bold" >Time (min)</text>
<text transform="translate(337.8,1183) rotate(-90) scale(1.0,1)" font-size="40" font-family="Liberation Serif" font-weight="bold">C/<tspan dx="-2">C</tspan><tspan font-size="26" dx="-1.0" dy="8.5">o</tspan></text>
</svg>
</body></html>
